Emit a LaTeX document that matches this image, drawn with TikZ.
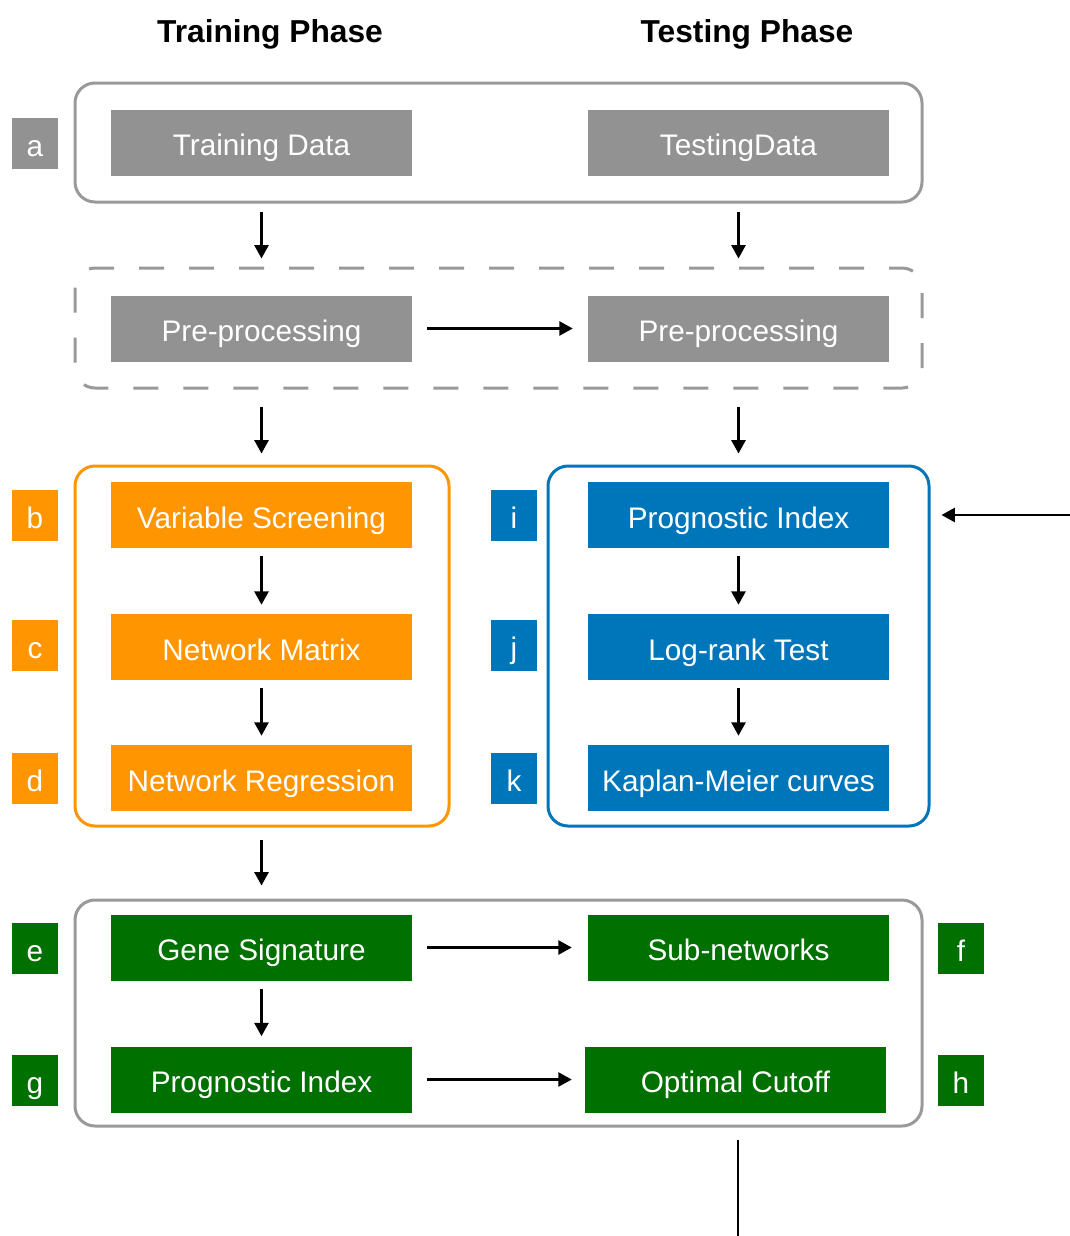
\documentclass[tikz,border=0pt]{standalone}
\usepackage{fontspec}
\setmainfont{Liberation Sans}
\usetikzlibrary{arrows.meta}
\definecolor{boxgray}{RGB}{146,146,146}
\definecolor{framegray}{RGB}{153,153,153}
\definecolor{myorange}{RGB}{255,149,0}
\definecolor{myblue}{RGB}{0,118,186}
\definecolor{mygreen}{RGB}{0,112,0}
\tikzset{
  stepbox/.style={minimum width=225.75pt, minimum height=49.5pt, inner sep=0pt, text=white, text height=19.5pt, text depth=0pt, font=\fontsize{22.3}{26}\selectfont},
  labbox/.style={minimum width=34.5pt, minimum height=38.25pt, inner sep=0pt, text=white, text height=19.5pt, text depth=0pt, font=\fontsize{22.3}{26}\selectfont},
  frame/.style={draw=#1, line width=2.25pt, rounded corners=15pt, inner sep=0pt},
  arr/.style={-{Triangle[length=10pt,width=10.5pt]}, line width=1.8pt, black},
  title/.style={font=\bfseries\fontsize{23.8}{28}\selectfont, inner sep=0pt, text height=18pt, text depth=0pt}
}
\begin{document}
\begin{tikzpicture}[x=0.75pt,y=-0.75pt]
\useasboundingbox (0,0) rectangle (1070,1236);
% titles
\node[title] (t1) at (270,30) {Training Phase};
\node[title] (t2) at (747,30) {Testing Phase};
% containers
\node[frame=framegray, minimum width=635.25pt, minimum height=89.25pt] (A) at (498.5,142.5) {};
\node[draw=framegray, line width=2.25pt, rounded corners=15pt, dash pattern=on 18.75pt off 18.75pt, dash phase=9pt, minimum width=635.25pt, minimum height=90pt, inner sep=0pt] (P) at (498.5,328) {};
\node[frame=myorange, minimum width=280.5pt, minimum height=270pt] (O) at (262,646) {};
\node[frame=myblue, minimum width=285.75pt, minimum height=270pt] (B) at (738.5,646) {};
\node[frame=framegray, minimum width=635.25pt, minimum height=169.5pt] (G) at (498.5,1013) {};
% boxes
\node[stepbox, fill=boxgray] (td) at (261.5,142.5) {Training Data};
\node[stepbox, fill=boxgray] (ted) at (738.5,142.5) {TestingData};
\node[stepbox, fill=boxgray] (pp1) at (261.5,328.5) {Pre-processing};
\node[stepbox, fill=boxgray] (pp2) at (738.5,328.5) {Pre-processing};
\node[stepbox, fill=myorange] (vs) at (261.5,515) {Variable Screening};
\node[stepbox, fill=myorange] (nm) at (261.5,647) {Network Matrix};
\node[stepbox, fill=myorange] (nr) at (261.5,778) {Network Regression};
\node[stepbox, fill=myblue] (pi) at (738.5,515) {Prognostic Index};
\node[stepbox, fill=myblue] (lr) at (738.5,647) {Log-rank Test};
\node[stepbox, fill=myblue] (km) at (738.5,778) {Kaplan-Meier curves};
\node[stepbox, fill=mygreen] (gs) at (261.5,947.5) {Gene Signature};
\node[stepbox, fill=mygreen] (sn) at (738.5,947.5) {Sub-networks};
\node[stepbox, fill=mygreen] (pig) at (261.5,1079.5) {Prognostic Index};
\node[stepbox, fill=mygreen] (oc) at (735.5,1079.5) {Optimal Cutoff};
% labels
\node[labbox, fill=boxgray] (la) at (35,143) {a};
\node[labbox, fill=myorange] (lb) at (35,515.5) {b};
\node[labbox, fill=myorange] (lc) at (35,645.5) {c};
\node[labbox, fill=myorange] (ld) at (35,778.5) {d};
\node[labbox, fill=myblue] (li) at (514,515.5) {i};
\node[labbox, fill=myblue] (lj) at (514,645.5) {j};
\node[labbox, fill=myblue] (lk) at (514,778.5) {k};
\node[labbox, fill=mygreen] (le) at (35,948) {e};
\node[labbox, fill=mygreen] (lg) at (35,1080) {g};
\node[labbox, fill=mygreen] (lf) at (961,948) {f};
\node[labbox, fill=mygreen] (lh) at (961,1080) {h};
% connectors
\draw[arr, shorten <=6pt, shorten >=6pt] (A.south -| td) -- (P.north -| td);
\draw[arr, shorten <=6pt, shorten >=6pt] (A.south -| ted) -- (P.north -| ted);
\draw[arr, shorten <=11.25pt, shorten >=11.25pt] (pp1) -- (pp2);
\draw[arr, shorten <=12.75pt, shorten >=8.25pt] (P.south -| pp1) -- (O.north -| pp1);
\draw[arr, shorten <=12.75pt, shorten >=8.25pt] (P.south -| pp2) -- (B.north -| pp2);
\draw[arr, shorten <=6pt, shorten >=6.75pt] (vs) -- (nm);
\draw[arr, shorten <=6pt, shorten >=6.75pt] (nm) -- (nr);
\draw[arr, shorten <=6pt, shorten >=6.75pt] (pi) -- (lr);
\draw[arr, shorten <=6pt, shorten >=6.75pt] (lr) -- (km);
\coordinate (ext) at (1070,515);
\draw[arr, shorten >=8.25pt] (ext) -- (ext -| B.east);
\draw[arr, shorten <=9pt, shorten >=9.75pt] (O.south -| nr) -- (G.north -| nr);
\draw[arr, shorten <=11.25pt, shorten >=12pt] (gs) -- (sn);
\draw[arr, shorten <=6pt, shorten >=7.5pt] (gs) -- (pig);
\draw[arr, shorten <=11.25pt, shorten >=9.75pt] (pig) -- (oc.west |- pig);
\coordinate (bottom) at (738,1236);
\draw[line width=1.8pt, shorten <=9pt] (G.south -| bottom) -- (bottom);
\end{tikzpicture}
\end{document}
